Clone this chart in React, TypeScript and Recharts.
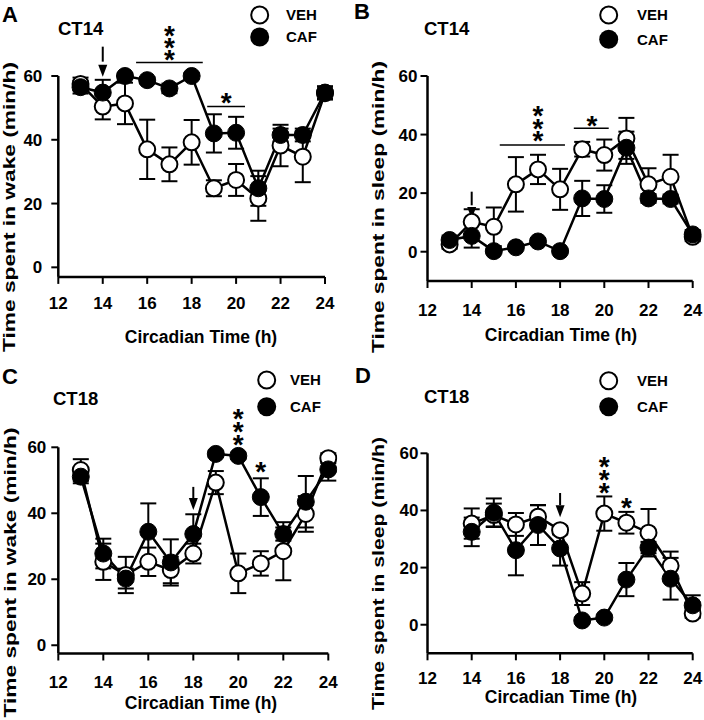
import React from 'react';
import { LineChart, Line, XAxis, YAxis, ErrorBar, ReferenceLine, ReferenceDot } from 'recharts';

const FONT = '"Liberation Sans", Arial, Helvetica, sans-serif';

// ---------- data ----------
const hoursA = [13, 14, 15, 16, 17, 18, 19, 20, 21, 22, 23, 24];
const hoursB = [13, 14, 15, 16, 17, 18, 19, 20, 21, 22, 23, 24];
const hoursC = [13, 14, 15, 16, 17, 18, 19, 20, 21, 22, 23, 24];
const hoursD = [14, 15, 16, 17, 18, 19, 20, 21, 22, 23, 24];
const xTicks = [12, 14, 16, 18, 20, 22, 24];
const yTicks = [0, 20, 40, 60];

// A: wake, CT14 injection
const wakeCT14Veh = [57.5, 50.4, 51.4, 37.0, 32.3, 39.2, 24.8, 27.4, 21.6, 38.2, 34.7, 54.6];
const wakeCT14VehSem = [2, 4, 6.5, 9.3, 5.3, 7, 2.5, 5, 7, 6.5, 8, 2];
const wakeCT14Caf = [56.5, 54.8, 60.0, 58.7, 56.1, 60.0, 42.0, 42.2, 24.8, 41.5, 41.5, 54.8];
const wakeCT14CafSem = [2, 4, 1, 1, 1.5, 1, 6, 5, 5.5, 2, 2, 2];

// B: sleep, CT14 injection
const sleepCT14Veh = [2.5, 10.2, 8.5, 23.0, 28.1, 21.3, 35.0, 33.0, 38.7, 23.0, 25.6, 5.1];
const sleepCT14VehSem = [1.5, 4.3, 6.6, 9.3, 5, 7, 2.5, 5.3, 7, 5.5, 7.5, 1.5];
const sleepCT14Caf = [4.0, 5.4, 0.2, 1.5, 3.5, 0.2, 18.2, 18.0, 35.5, 18.2, 18.0, 5.9];
const sleepCT14CafSem = [1.5, 4, 0.5, 0.5, 1, 0.5, 6, 4.7, 5.5, 1.5, 1.5, 1.5];

// C: wake, CT18 injection
const wakeCT18Veh = [53.1, 25.3, 21.3, 25.3, 22.8, 27.8, 49.3, 21.8, 24.8, 28.5, 39.8, 56.7];
const wakeCT18VehSem = [3.3, 5.5, 5.5, 4.3, 4, 3, 3.5, 6, 3.7, 8.8, 5.4, 1.5];
const wakeCT18Caf = [51.1, 27.8, 20.2, 34.4, 25.1, 33.7, 58.0, 57.4, 44.9, 33.7, 43.5, 53.3];
const wakeCT18CafSem = [2, 4.5, 3, 8.6, 7, 6, 1, 1, 5.7, 2, 7.8, 3.4];

// D: sleep, CT18 injection
const sleepCT18Veh = [35.4, 38.4, 35.1, 37.8, 33.1, 10.9, 38.9, 35.7, 32.2, 20.6, 3.9];
const sleepCT18VehSem = [5.3, 4, 4, 4, 1.5, 4, 6, 3.8, 8.3, 5, 1.5];
const sleepCT18Caf = [32.5, 39.2, 26.1, 34.9, 26.7, 1.5, 2.5, 15.8, 27.0, 16.1, 6.8];
const sleepCT18CafSem = [5, 5, 8.8, 7, 6, 1, 1, 5.8, 2, 7.3, 3.5];

type Row = { ct: number; veh: number; vehErr: number; caf: number; cafErr: number };
const buildRows = (h: number[], v: number[], vs: number[], c: number[], cs: number[]): Row[] =>
  h.map((ct, i) => ({ ct, veh: v[i], vehErr: vs[i], caf: c[i], cafErr: cs[i] }));

// ---------- annotation shapes ----------
const makeStars = (n: number, spacing: number) => (props: any) => {
  const { cx, cy } = props;
  const top = cy - (n - 1) * spacing + 15;
  const spans = [];
  for (let i = 0; i < n; i++) {
    spans.push(
      <tspan key={i} x={cx} dy={i === 0 ? 0 : spacing}>*</tspan>
    );
  }
  return (
    <text x={cx} y={top} textAnchor="middle" fontSize={28} fontWeight="bold" fontFamily={FONT} fill="#000">
      {spans}
    </text>
  );
};

const ArrowHead = (props: any) => {
  const { cx, cy } = props;
  return <path d={`M${cx - 4.5},${cy - 12} L${cx + 4.5},${cy - 12} L${cx},${cy} Z`} fill="#000" />;
};

type Panel = {
  left: number; top: number;
  plotLeft: number; plotRight: number; plotTop: number; plotBottom: number;
  yDomain: [number, number];
  xTickMargin: number; yTickMargin: number;
  rows: Row[];
  letter: string; letterX: number; letterBase: number;
  ct: string; ctX: number; ctBase: number;
  legX: number; legY1: number; legY2: number; legTextX: number;
  yTitle: string; yTitleX: number; yTitleCY: number; yTitleLen: number;
  xTitleCX: number; xTitleBase: number;
  arrow: { x: number; y1: number; y2: number };
  sig: { x1: number; x2: number; y: number }[];
  stars: { x: number; y: number; n: number; sp: number }[];
};

const W = 352;
const H = 360;

const panels: Panel[] = [
  {
    left: 0, top: 0, plotLeft: 58.3, plotRight: 325, plotTop: 76, plotBottom: 276.9,
    yDomain: [-3, 60], xTickMargin: 13, yTickMargin: 9,
    rows: buildRows(hoursA, wakeCT14Veh, wakeCT14VehSem, wakeCT14Caf, wakeCT14CafSem),
    letter: 'A', letterX: 2, letterBase: 22, ct: 'CT14', ctX: 58, ctBase: 35,
    legX: 259.7, legY1: 15, legY2: 37, legTextX: 286,
    yTitle: 'Time spent in wake (min/h)', yTitleX: 15, yTitleCY: 207, yTitleLen: 290,
    xTitleCX: 201, xTitleBase: 343,
    arrow: { x: 14, y1: 69.2, y2: 59.8 },
    sig: [{ x1: 15.5, x2: 18.5, y: 64.2 }, { x1: 18.7, x2: 20.4, y: 50.4 }],
    stars: [{ x: 17, y: 66.8, n: 3, sp: 12 }, { x: 19.55, y: 53.5, n: 1, sp: 0 }],
  },
  {
    left: 352, top: 0, plotLeft: 75.5, plotRight: 340.7, plotTop: 76, plotBottom: 281,
    yDomain: [-10, 60], xTickMargin: 16, yTickMargin: 3,
    rows: buildRows(hoursB, sleepCT14Veh, sleepCT14VehSem, sleepCT14Caf, sleepCT14CafSem),
    letter: 'B', letterX: 2, letterBase: 18.5, ct: 'CT14', ctX: 72, ctBase: 35,
    legX: 256.7, legY1: 15, legY2: 39.3, legTextX: 285,
    yTitle: 'Time spent in sleep (min/h)', yTitleX: 32, yTitleCY: 207, yTitleLen: 292,
    xTitleCX: 209, xTitleBase: 341,
    arrow: { x: 14, y1: 20.5, y2: 11.2 },
    sig: [{ x1: 15.27, x2: 18.22, y: 36.4 }, { x1: 18.62, x2: 20.2, y: 42.2 }],
    stars: [{ x: 17, y: 39.85, n: 3, sp: 12.5 }, { x: 19.44, y: 45, n: 1, sp: 0 }],
  },
  {
    left: 0, top: 360, plotLeft: 58.3, plotRight: 328.3, plotTop: 87.3, plotBottom: 293.5,
    yDomain: [-2.5, 60], xTickMargin: 15, yTickMargin: 5,
    rows: buildRows(hoursC, wakeCT18Veh, wakeCT18VehSem, wakeCT18Caf, wakeCT18CafSem),
    letter: 'C', letterX: 2, letterBase: 24, ct: 'CT18', ctX: 53, ctBase: 45,
    legX: 266.7, legY1: 20, legY2: 46.7, legTextX: 290,
    yTitle: 'Time spent in wake (min/h)', yTitleX: 16, yTitleCY: 212.5, yTitleLen: 290,
    xTitleCX: 201, xTitleBase: 349,
    arrow: { x: 18, y1: 48.0, y2: 41.0 },
    sig: [],
    stars: [{ x: 20, y: 62.4, n: 3, sp: 13 }, { x: 21, y: 54.3, n: 1, sp: 0 }],
  },
  {
    left: 352, top: 360, plotLeft: 75.5, plotRight: 340.7, plotTop: 93.3, plotBottom: 293.3,
    yDomain: [-10, 60], xTickMargin: 12, yTickMargin: 2,
    rows: buildRows(hoursD, sleepCT18Veh, sleepCT18VehSem, sleepCT18Caf, sleepCT18CafSem),
    letter: 'D', letterX: 3, letterBase: 23, ct: 'CT18', ctX: 72, ctBase: 43,
    legX: 256.7, legY1: 20.7, legY2: 46.7, legTextX: 285,
    yTitle: 'Time spent in sleep (min/h)', yTitleX: 32, yTitleCY: 213.5, yTitleLen: 273,
    xTitleCX: 209, xTitleBase: 343,
    arrow: { x: 18, y1: 46.1, y2: 37.6 },
    sig: [],
    stars: [{ x: 20, y: 48.2, n: 3, sp: 13 }, { x: 21, y: 42.9, n: 1, sp: 0 }],
  },
];

const tickStyle = { fill: '#000', fontSize: 17, fontWeight: 'bold', fontFamily: FONT };

function PanelChart({ p }: { p: Panel }) {
  const xAxisH = 30;
  const margin = {
    top: p.plotTop,
    right: W - p.plotRight,
    bottom: H - p.plotBottom - xAxisH,
    left: 0,
  };
  return (
    <div style={{ position: 'absolute', left: p.left, top: p.top, width: W, height: H }}>
      <LineChart width={W} height={H} data={p.rows} margin={margin}>
        <XAxis
          dataKey="ct" type="number" domain={[12, 24]} ticks={xTicks} allowDataOverflow
          height={xAxisH} tick={tickStyle} tickSize={7} tickMargin={p.xTickMargin}
          axisLine={{ stroke: '#000', strokeWidth: 2.5 }} tickLine={{ stroke: '#000', strokeWidth: 2 }}
          interval={0}
        />
        <YAxis
          type="number" domain={p.yDomain} ticks={yTicks} allowDataOverflow
          width={p.plotLeft} tick={tickStyle} tickSize={7} tickMargin={p.yTickMargin}
          axisLine={{ stroke: '#000', strokeWidth: 2.5 }} tickLine={{ stroke: '#000', strokeWidth: 2 }}
          interval={0}
        />
        {p.sig.map((s, i) => (
          <ReferenceLine key={'s' + i} segment={[{ x: s.x1, y: s.y }, { x: s.x2, y: s.y }]}
            stroke="#000" strokeWidth={1.5} ifOverflow="visible" />
        ))}
        <ReferenceLine segment={[{ x: p.arrow.x, y: p.arrow.y1 }, { x: p.arrow.x, y: (p.arrow.y1 + p.arrow.y2) / 2 }]}
          stroke="#000" strokeWidth={2} ifOverflow="visible" />
        <ReferenceDot x={p.arrow.x} y={p.arrow.y2} r={0} ifOverflow="visible" shape={ArrowHead} />
        {p.stars.map((s, i) => (
          <ReferenceDot key={'st' + i} x={s.x} y={s.y} r={0} ifOverflow="visible" shape={makeStars(s.n, s.sp)} />
        ))}
        <Line
          type="linear" dataKey="veh" stroke="#000" strokeWidth={2.5} isAnimationActive={false}
          dot={{ r: 8, fill: '#fff', stroke: '#000', strokeWidth: 2, clipDot: false }}
        >
          <ErrorBar dataKey="vehErr" direction="y" width={8} stroke="#000" strokeWidth={2} />
        </Line>
        <Line
          type="linear" dataKey="caf" stroke="#000" strokeWidth={2.5} isAnimationActive={false}
          dot={{ r: 8.5, fill: '#000', stroke: '#000', strokeWidth: 1, clipDot: false }}
        >
          <ErrorBar dataKey="cafErr" direction="y" width={8} stroke="#000" strokeWidth={2} />
        </Line>
      </LineChart>
      <svg width={W} height={H} style={{ position: 'absolute', left: 0, top: 0, pointerEvents: 'none' }}
        fontFamily={FONT} fontWeight="bold" fill="#000">
        <text x={p.letterX} y={p.letterBase} fontSize={22}>{p.letter}</text>
        <text x={p.ctX} y={p.ctBase} fontSize={18.5}>{p.ct}</text>
        <circle cx={p.legX} cy={p.legY1} r={8.5} fill="#fff" stroke="#000" strokeWidth={2} />
        <circle cx={p.legX} cy={p.legY2} r={9.5} fill="#000" />
        <text x={p.legTextX} y={p.legY1 + 5.4} fontSize={15}>VEH</text>
        <text x={p.legTextX} y={p.legY2 + 5.4} fontSize={15}>CAF</text>
        <text transform={`translate(${p.yTitleX},${p.yTitleCY}) rotate(-90)`} textAnchor="middle"
          fontSize={17} textLength={p.yTitleLen} lengthAdjust="spacingAndGlyphs">{p.yTitle}</text>
        <text x={p.xTitleCX} y={p.xTitleBase} textAnchor="middle" fontSize={17.5}>Circadian Time (h)</text>
      </svg>
    </div>
  );
}

export default function App() {
  return (
    <div style={{ position: 'absolute', left: 0, top: 0, width: 704, height: 720, background: '#fff' }}>
      {panels.map((p) => (
        <PanelChart key={p.letter} p={p} />
      ))}
    </div>
  );
}
